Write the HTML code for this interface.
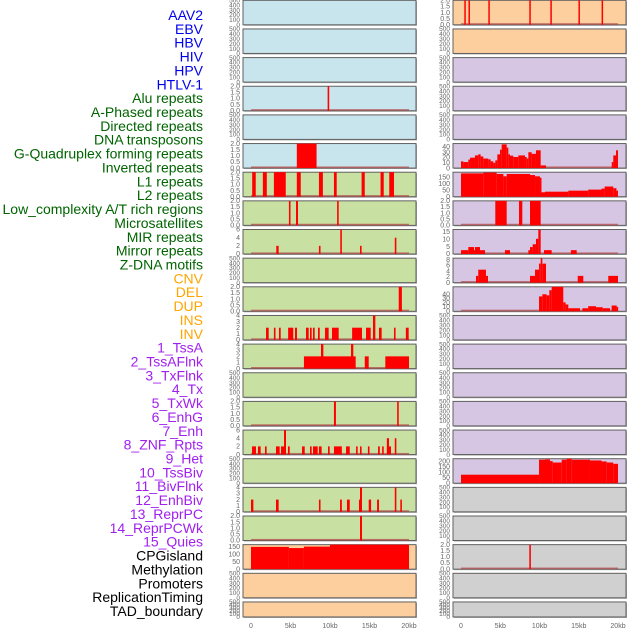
<!DOCTYPE html>
<html><head><meta charset="utf-8">
<style>
body{margin:0;background:#fff;}
svg{display:block;font-family:"Liberation Sans",sans-serif;}
</style></head>
<body>
<svg id="chart" width="630" height="630" viewBox="0 0 630 630" xmlns="http://www.w3.org/2000/svg">
<g id="labels"></g>
<g id="panels"></g>
<g id="xaxis"></g>
</svg>
<script>
// ---------- data ----------
const trackLabels = ["AAV2","EBV","HBV","HIV","HPV","HTLV-1","Alu repeats","A-Phased repeats","Directed repeats","DNA transposons","G-Quadruplex forming repeats","Inverted repeats","L1 repeats","L2 repeats","Low_complexity A/T rich regions","Microsatellites","MIR repeats","Mirror repeats","Z-DNA motifs","CNV","DEL","DUP","INS","INV","1_TssA","2_TssAFlnk","3_TxFlnk","4_Tx","5_TxWk","6_EnhG","7_Enh","8_ZNF_Rpts","9_Het","10_TssBiv","11_BivFlnk","12_EnhBiv","13_ReprPC","14_ReprPCWk","15_Quies","CPGisland","Methylation","Promoters","ReplicationTiming","TAD_boundary"];
const labelGroups = [6,13,5,15,5];
const groupColors = ["#0000ee","#006400","#ffa500","#a020f0","#000000"];
const xTickKb = [0,5,10,15,20];
const xTickText = ["0","5kb","10kb","15kb","20kb"];

// left column bars [startKb, endKb, value]
const barsL3 = [[9.7,9.9,2]];
const barsL5 = [[5.8,8.3,2]];
const barsL6 = [[0.15,0.6,2],[1.5,2.0,2],[2.9,4.4,2],[5.8,6.3,2],[8.6,9.1,2],[10.5,10.85,2],[14.0,14.4,2],[16.4,16.8,2],[17.5,18.1,2]];
const barsL7 = [[4.8,5.0,2],[5.7,5.95,2],[10.9,11.1,2]];
const barsL8 = [[3.2,3.5,2],[8.6,8.8,2],[11.3,11.5,6],[13.8,14.0,2],[18.2,18.4,4]];
const barsL10 = [[18.7,19.1,2]];
const barsL11 = [[1.9,2.24,2],[2.9,3.1,2],[3.54,3.76,2],[4.7,5.35,2],[5.57,5.82,2],[6.96,7.3,2],[7.47,7.68,2],[7.85,8.06,2],[8.48,8.7,2],[9.37,9.83,2],[10.25,11.1,2],[12.8,14.05,2],[14.56,15.15,2],[15.44,15.74,4],[16.2,16.54,2],[18.1,18.3,2],[19.6,19.96,2]];
const barsL12 = [[6.7,13.25,2],[8.86,9.16,4],[12.66,12.95,4],[14.4,14.9,2],[17.0,20.0,2]];
const barsL14 = [[10.5,10.75,2],[18.5,18.7,2]];
const barsL15 = [[0.13,0.63,2],[0.88,1.22,2],[1.77,1.98,2],[3.16,3.63,2],[3.8,4.43,2],[4.18,4.43,6],[4.68,4.9,2],[6.46,6.8,2],[7.47,7.68,2],[7.85,8.44,2],[8.6,8.94,2],[9.75,9.96,2],[10.5,11.5,2],[12.03,12.5,2],[13.3,13.5,2],[13.8,14.0,2],[14.8,15.0,2],[16.08,16.3,2],[16.6,16.8,2],[17.2,17.72,2],[17.2,17.47,4],[18.2,18.4,4]];
const barsL17 = [[0.0,0.3,2],[3.16,3.5,2],[8.6,8.8,2],[11.27,11.5,2],[12.15,12.5,2],[13.67,13.9,2],[13.8,14.05,4],[14.9,15.2,2],[15.96,16.2,2],[18.2,18.4,4],[18.9,19.1,2]];
const barsL18 = [[13.8,14.05,2]];
const barsL19 = [[0,4.8,150],[4.8,6.7,142],[6.7,10,152],[10,20,165]];

// right column bars
const barsR0 = [[0.42,0.56,2],[0.95,1.09,2],[3.48,3.62,2],[8.7,8.84,2],[11.38,11.52,2],[14.96,15.1,2],[17.91,18.05,2]];
const barsR5 = [[0,0.3,12.7],[0.3,0.93,11.4],[0.93,1.15,16],[1.15,1.78,19.7],[1.78,2.2,24],[2.2,2.5,26],[2.5,2.84,22],[2.84,3.48,18],[3.48,3.78,16.5],[3.78,4.12,12.7],[4.12,4.37,10],[4.37,4.63,14.6],[4.63,4.97,26],[4.97,5.18,35],[5.18,5.82,45],[5.82,6.03,38.7],[6.03,6.24,26],[6.24,6.66,23.5],[6.66,7.3,21],[7.3,8.15,24],[8.15,8.37,21],[8.37,8.58,18],[8.58,9.0,30],[9.0,9.55,27],[9.55,10.15,33.7],[10.15,10.83,5],[19.2,19.4,11.4],[19.4,19.75,24],[19.75,20,33.7]];
const barsR6 = [[0,2.84,181],[2.84,4.54,187],[4.54,5.4,176],[5.4,5.82,158],[5.82,8.79,176],[8.79,9.43,168],[9.43,10.06,158],[10.06,10.15,147],[10.15,10.7,34],[10.7,13.67,39],[13.67,16.2,47],[16.2,17.9,55],[17.9,18.3,63],[18.3,19.4,79],[19.4,19.8,66],[19.8,20,47]];
const barsR7 = [[4.37,5.82,2],[7.39,7.81,2],[8.79,10.15,2]];
const barsR8 = [[0,0.93,2.6],[0.93,1.66,4.7],[1.66,1.78,2.6],[1.78,2.42,4.7],[2.42,3.06,2.6],[5.6,6.24,2.6],[8.58,8.79,2.6],[8.79,9.13,4.7],[9.13,9.55,6.6],[9.55,9.85,10.3],[9.85,10.15,16.4],[10.57,11.55,2.6],[14.0,14.74,2.6]];
const barsR9 = [[1.91,2.2,2.35],[2.2,3.18,4.5],[3.18,3.44,2.35],[8.79,9.43,2.35],[9.43,9.94,4.5],[9.94,10.15,6.6],[10.15,10.36,8.5],[10.36,10.83,6.6],[14.87,15.58,2.35],[18.76,20,2.35]];
const barsR10 = [[9.94,10.36,35],[10.36,10.91,40],[10.91,11.25,37.6],[11.25,11.55,49.6],[11.55,13.03,57.6],[13.03,13.33,21],[13.33,13.67,16],[13.67,15.16,7.2],[15.46,16.2,7.2],[16.2,17.2,12],[17.2,18.05,9.6],[18.05,18.98,7.2],[19.19,19.83,13.6],[19.83,20,10.4]];
const barsR16 = [[0,9.94,78],[9.94,10.7,216],[10.7,11.34,219],[11.34,11.68,203],[11.68,12.83,190],[12.83,13.46,216],[13.46,14.1,225],[14.1,16.43,216],[16.43,17.9,209],[17.9,18.56,200],[18.56,19.4,190],[19.4,20,178]];
const barsR19 = [[8.7,8.9,2]];

// y-axis scale per panel: max value and tick labels
const tickEmpty = [0,100,200,300,400,500];
const tick2 = [0,0.5,1,1.5,2];
const tick4 = [0,1,2,3,4];
const tick6 = [0,2,4,6];
const leftBars = {3:barsL3,5:barsL5,6:barsL6,7:barsL7,8:barsL8,10:barsL10,11:barsL11,12:barsL12,14:barsL14,15:barsL15,17:barsL17,18:barsL18,19:barsL19};
const rightBars = {0:barsR0,5:barsR5,6:barsR6,7:barsR7,8:barsR8,9:barsR9,10:barsR10,16:barsR16,19:barsR19};
const leftYMax = {3:2,5:2,6:2,7:2,8:6,10:2,11:4,12:4,14:2,15:6,17:4,18:2,19:165};
const leftTicks = {3:tick2,5:tick2,6:tick2,7:tick2,8:tick6,10:tick2,11:tick4,12:tick4,14:tick2,15:tick6,17:tick4,18:tick2,19:[0,50,100,150]};
const rightYMax = {0:2,5:46.5,6:190,7:2,8:16.6,9:8.5,10:57.6,16:225,19:2};
const rightTicks = {0:tick2,5:[0,10,20,30,40],6:[0,50,100,150],7:tick2,8:[0,5,10,15],9:[0,2,4,6,8],10:[0,10,20,30,40],16:[0,50,100,150,200],19:tick2};

// ---------- drawing ----------
const NS = "http://www.w3.org/2000/svg";
function mk(tag, attrs, parent){const e=document.createElementNS(NS,tag);for(const k in attrs)e.setAttribute(k,attrs[k]);parent.appendChild(e);return e;}
const C = {blue:"#c8e4ec",green:"#c8e1a3",peach:"#fecf9e",purple:"#d6c6e3",gray:"#d0d0d0"};
function leftColor(i){return i<=5?C.blue:(i<=18?C.green:C.peach);}
function rightColor(i){return i<=1?C.peach:(i<=16?C.purple:C.gray);}
const cols = [
 {px:243,pw:173,x0:251,k:7.9,bars:leftBars,ymax:leftYMax,ticks:leftTicks,color:leftColor,tx:240,name:"left"},
 {px:453,pw:173,x0:461,k:7.85,bars:rightBars,ymax:rightYMax,ticks:rightTicks,color:rightColor,tx:450,name:"right"}
];
const step=28.65;
function fmt(v,t){return t===tick2?v.toFixed(1):String(v);}

// labels
const lg=document.getElementById('labels');
let gi=0, cnt=0;
trackLabels.forEach((t,i)=>{
  while(cnt>=labelGroups[gi]){gi++;cnt=0;}
  cnt++;
  const e=mk('text',{x:203,y:15+i*13.86+5,'text-anchor':'end','font-size':14,fill:groupColors[gi]},lg);
  
  
  e.textContent=t;
});

const pg=document.getElementById('panels');
cols.forEach(c=>{
  for(let r=0;r<22;r++){
    const top=r*step+0.3, h=(r===21?15:24.5), bot=top+h;
    const g=mk('g',{},pg);
    
    
    mk('rect',{x:c.px+1,y:top+1,width:c.pw,height:h,fill:'#aaa'},g);
    const bg=mk('rect',{x:c.px,y:top,width:c.pw,height:h,fill:c.color(r),stroke:'#606060','stroke-width':1},g);
    
    
    const bars=c.bars[r];
    const ymax=bars?c.ymax[r]:500;
    const ticks=bars?c.ticks[r]:tickEmpty;
    const yS=v=>bot-v/ymax*h;
    const xS=kb=>c.x0+kb*c.k;
    ticks.forEach(v=>{
      const t=mk('text',{x:c.tx,y:yS(v)+2.2,'text-anchor':'end','font-size':(bars?7:6.5),fill:'#666'},g);
      
      
      t.textContent=fmt(v,ticks);
    });
    if(bars){
      const base=mk('rect',{x:xS(0),y:bot-1.6,width:xS(20)-xS(0),height:1.6,fill:'#b34a4a',opacity:0.75},g);
      
      
      bars.forEach(b=>{
        const x1=xS(b[0]), x2=xS(b[1]);
        const w=Math.max(1.5,x2-x1);
        const y=yS(Math.min(b[2],ymax));
        const e=mk('rect',{x:x1,y:y,width:w,height:bot-y,fill:'#ff0000'},g);
        
        
      });
    }
  }
  const xg=document.getElementById('xaxis');
  xTickKb.forEach((kb,i)=>{
    const t=mk('text',{x:c.x0+kb*c.k,y:628,'text-anchor':'middle','font-size':7,fill:'#666'},xg);
    
    
    t.textContent=xTickText[i];
  });
});
</script>
</body></html>
